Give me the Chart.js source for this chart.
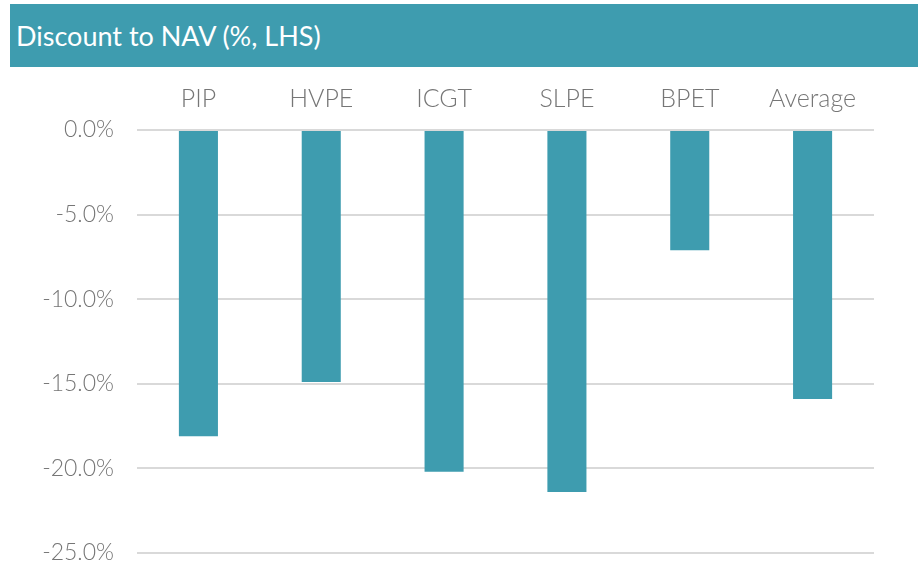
<!DOCTYPE html>
<html>
<head>
<meta charset="utf-8">
<script src="https://cdn.jsdelivr.net/npm/chart.js@4"></script>
<style>
  html, body { margin: 0; padding: 0; background: #fff; }
  #wrap { position: relative; width: 923px; height: 580px; overflow: hidden; }
  #title {
    position: absolute; left: 10px; top: 4px; width: 908px; height: 63px;
    background: #3e9caf; color: #fff; font-family: Lato, sans-serif; font-weight: 400;
    font-size: 27px; line-height: 63px; padding-left: 6px; box-sizing: border-box;
  }
  canvas { position: absolute; left: 0; top: 0; }
</style>
</head>
<body>
<div id="wrap">
  <canvas id="c" width="923" height="580"></canvas>
  <div id="title">Discount to NAV (%, LHS)</div>
</div>
<script>
const categories = ["PIP", "HVPE", "ICGT", "SLPE", "BPET", "Average"];
const discountValues = [-18.1, -14.9, -20.2, -21.4, -7.1, -15.9];
const yTicks = [0, -5, -10, -15, -20, -25];

const barColor = "#3e9caf";

new Chart(document.getElementById("c"), {
  type: "bar",
  data: {
    labels: categories,
    datasets: [{
      label: "Discount to NAV",
      data: discountValues,
      backgroundColor: barColor,
      borderWidth: 0,
      categoryPercentage: 1,
      barPercentage: 0.318
    }]
  },
  options: {
    responsive: false,
    animation: false,
    layout: { padding: { left: 0, right: 49, top: 0, bottom: 27 } },
    plugins: { legend: { display: false }, tooltip: { enabled: false }, title: { display: false } },
    scales: {
      x: {
        position: "top",
        grid: { display: false, drawTicks: false },
        border: { display: false },
        ticks: {
          color: "#767676",
          padding: 16,
          font: { family: "Lato", weight: 300, size: 25 }
        },
        afterFit: (s) => { s.height = 130; }
      },
      y: {
        min: -25, max: 0,
        afterBuildTicks: (s) => { s.ticks = yTicks.map(v => ({ value: v })); },
        grid: { color: "#d9d9d9", lineWidth: 2, drawTicks: false },
        border: { display: false },
        ticks: {
          color: "#767676",
          padding: 23,
          font: { family: "Lato", weight: 300, size: 23 },
          callback: (v) => Number(v).toFixed(1) + "%"
        },
        afterFit: (s) => { s.width = 137; s.paddingTop = 0; s.paddingBottom = 0; }
      }
    }
  }
});
</script>
</body>
</html>
